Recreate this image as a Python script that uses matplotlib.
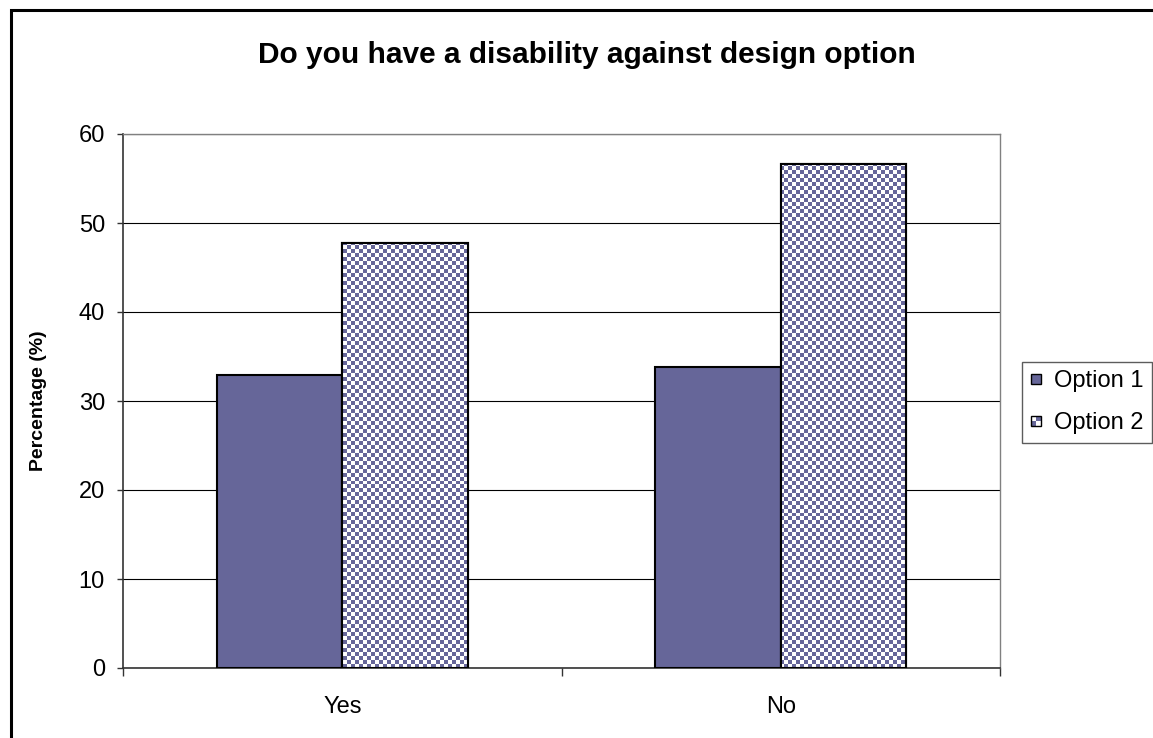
import numpy as np
import matplotlib
matplotlib.use("Agg")
import matplotlib.pyplot as plt
from matplotlib.patches import Rectangle
from matplotlib.legend_handler import HandlerBase
from matplotlib.colors import ListedColormap

categories = ["Yes", "No"]
series_names = ["Option 1", "Option 2"]
option1 = [32.9, 33.8]
option2 = [47.7, 56.6]
title = "Do you have a disability against design option"
ylabel = "Percentage (%)"

BLUE = "#666699"
plt.rcParams['font.family'] = ['Liberation Sans', 'DejaVu Sans']

W, H = 1153, 738
fig = plt.figure(figsize=(W / 100, H / 100), dpi=100)
ax = fig.add_axes([123 / W, 1 - 668 / H, (1000 - 123) / W, (668 - 134) / H])

# outer frame (cropped at right/bottom)
fig.patches.append(Rectangle((11 / W, -0.05), 1.2, 1 - 10 / H + 0.05, transform=fig.transFigure,
                             fill=False, edgecolor="black", linewidth=2.2))

x = np.arange(len(categories))
bw = 126 / 440.5
ax.set_xlim(-0.5, len(categories) - 0.5)
ax.set_ylim(0, 60)

bars1 = ax.bar(x - bw / 2, option1, bw, color=BLUE, edgecolor="black", linewidth=1.5, zorder=3)
bars2 = ax.bar(x + bw / 2, option2, bw, color="white", edgecolor="black", linewidth=1.5, zorder=3)

# checkerboard texture (4 px cells)
ncols = int(round(877 / 4))
nrows = int(round(534 / 4))
yy, xx = np.mgrid[0:nrows, 0:ncols]
checker = ((xx + yy) % 2).astype(float)
cmap = ListedColormap(["white", BLUE])
for b in bars2:
    im = ax.imshow(checker, extent=[-0.5, len(categories) - 0.5, 0, 60], aspect="auto",
                   cmap=cmap, interpolation="nearest", zorder=3.5, origin="lower")
    im.set_clip_path(b)
    ax.add_patch(Rectangle(b.get_xy(), b.get_width(), b.get_height(), fill=False,
                           edgecolor="black", linewidth=1.5, zorder=4))

ax.set_yticks(np.arange(0, 61, 10))
ax.yaxis.grid(True, color="black", linewidth=0.8, zorder=1)
ax.set_axisbelow(True)
ax.tick_params(axis="y", direction="out", length=4.5, width=1, labelsize=17, pad=8.5,
               colors="#333333", labelcolor="black")
ax.set_xticks(x)
ax.set_xticklabels(categories)
ax.tick_params(axis="x", which="major", length=0, labelsize=17, pad=20)
ax.set_xticks(np.arange(-0.5, len(categories), 1.0), minor=True)
ax.tick_params(axis="x", which="minor", direction="out", length=6, width=1, colors="#333333")

for s in ["top", "right"]:
    ax.spines[s].set_color("#808080")
    ax.spines[s].set_linewidth(1)
for s in ["left", "bottom"]:
    ax.spines[s].set_color("#333333")
    ax.spines[s].set_linewidth(1.2)

ax.set_ylabel(ylabel, fontsize=14, fontweight="bold")
ax.yaxis.set_label_coords(-(123 - 47) / 877, 0.5)

fig.text(587 / W, 1 - 55 / H, title, ha="center", va="center", fontsize=21.5, fontweight="bold")


class SolidHandler(HandlerBase):
    def create_artists(self, legend, orig_handle, xdescent, ydescent, width, height, fontsize, trans):
        s = 10 * 0.72
        x0 = width - s - xdescent
        y0 = (height - s) / 2 - ydescent
        return [Rectangle((x0, y0), s, s, facecolor=BLUE,
                          edgecolor="black", linewidth=1, transform=trans)]


class CheckerHandler(HandlerBase):
    def create_artists(self, legend, orig_handle, xdescent, ydescent, width, height, fontsize, trans):
        s = 10 * 0.72
        x0 = width - s - xdescent
        y0 = (height - s) / 2 - ydescent
        h = s / 2
        arts = [Rectangle((x0, y0), s, s, facecolor="white", edgecolor="none", transform=trans),
                Rectangle((x0 + h, y0 + h), h, h, facecolor=BLUE, edgecolor="none", transform=trans),
                Rectangle((x0, y0), h, h, facecolor=BLUE, edgecolor="none", transform=trans),
                Rectangle((x0, y0), s, s, fill=False, edgecolor="black", linewidth=1, transform=trans)]
        return arts


h1 = Rectangle((0, 0), 1, 1)
h2 = Rectangle((0, 0), 1, 1)
leg = fig.legend([h1, h2], series_names, loc="upper left",
                 bbox_to_anchor=(1022 / W, 1 - 362 / H), bbox_transform=fig.transFigure,
                 fontsize=17, frameon=True, fancybox=False, edgecolor="#333333",
                 handler_map={h1: SolidHandler(), h2: CheckerHandler()},
                 handlelength=0.45, handletextpad=0.55, labelspacing=0.85, borderpad=0.35,
                 borderaxespad=0)
leg.get_frame().set_linewidth(1)

fig.savefig("out.png", dpi=100)
